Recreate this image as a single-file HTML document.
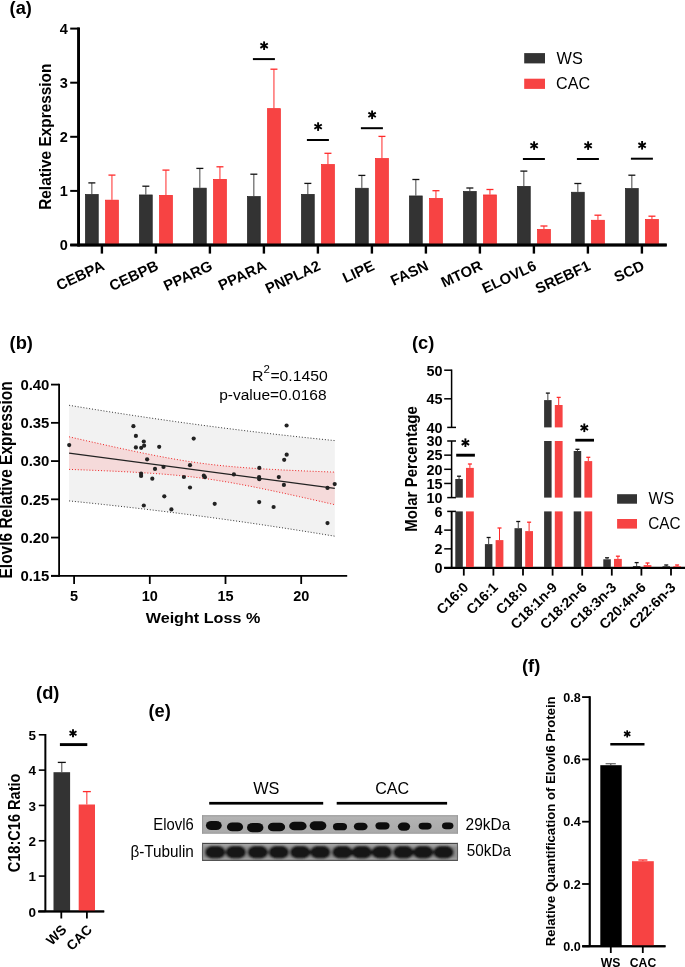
<!DOCTYPE html>
<html><head><meta charset="utf-8"><style>
html,body{margin:0;padding:0;background:#fff;}
svg{display:block;font-family:"Liberation Sans", sans-serif;}
</style></head><body>
<svg style="will-change:transform" width="685" height="967" viewBox="0 0 685 967" font-family='"Liberation Sans", sans-serif'>
<rect width="685" height="967" fill="#fff"/>
<text x="0" y="0" font-size="18.3" font-weight="bold" text-anchor="start" fill="#000" transform="translate(9.60 13.80)">(a)</text>
<line x1="78.60" y1="27.60" x2="78.60" y2="246.20" stroke="#000" stroke-width="2.4" />
<line x1="70.20" y1="245.00" x2="78.60" y2="245.00" stroke="#000" stroke-width="2.0" />
<text x="0" y="0" font-size="14.5" font-weight="bold" text-anchor="end" fill="#000" transform="translate(67.90 250.10)">0</text>
<line x1="70.20" y1="190.90" x2="78.60" y2="190.90" stroke="#000" stroke-width="2.0" />
<text x="0" y="0" font-size="14.5" font-weight="bold" text-anchor="end" fill="#000" transform="translate(67.90 196.00)">1</text>
<line x1="70.20" y1="136.80" x2="78.60" y2="136.80" stroke="#000" stroke-width="2.0" />
<text x="0" y="0" font-size="14.5" font-weight="bold" text-anchor="end" fill="#000" transform="translate(67.90 141.90)">2</text>
<line x1="70.20" y1="82.70" x2="78.60" y2="82.70" stroke="#000" stroke-width="2.0" />
<text x="0" y="0" font-size="14.5" font-weight="bold" text-anchor="end" fill="#000" transform="translate(67.90 87.80)">3</text>
<line x1="70.20" y1="28.60" x2="78.60" y2="28.60" stroke="#000" stroke-width="2.0" />
<text x="0" y="0" font-size="14.5" font-weight="bold" text-anchor="end" fill="#000" transform="translate(67.90 33.70)">4</text>
<line x1="77.40" y1="245.00" x2="666.70" y2="245.00" stroke="#000" stroke-width="2.5" />
<line x1="91.85" y1="182.90" x2="91.85" y2="194.10" stroke="#444" stroke-width="1.0" />
<line x1="88.35" y1="182.90" x2="95.35" y2="182.90" stroke="#111" stroke-width="1.3" />
<line x1="111.95" y1="175.10" x2="111.95" y2="199.80" stroke="#ff2a2a" stroke-width="1.0" />
<line x1="108.45" y1="175.10" x2="115.45" y2="175.10" stroke="#ff2a2a" stroke-width="1.3" />
<rect x="85.45" y="194.45" width="12.80" height="50.20" fill="#333333" stroke="#222" stroke-width="0.7"/>
<rect x="105.55" y="200.15" width="12.80" height="44.50" fill="#f74343" stroke="#f52525" stroke-width="0.7"/>
<line x1="101.90" y1="245.00" x2="101.90" y2="253.60" stroke="#000" stroke-width="2.4" />
<text x="105.40" y="269.30" font-size="14.85" font-weight="bold" text-anchor="end" fill="#000" transform="rotate(-25 105.4 269.3)">CEBPA</text>
<line x1="145.85" y1="186.20" x2="145.85" y2="194.60" stroke="#444" stroke-width="1.0" />
<line x1="142.35" y1="186.20" x2="149.35" y2="186.20" stroke="#111" stroke-width="1.3" />
<line x1="165.95" y1="170.10" x2="165.95" y2="195.00" stroke="#ff2a2a" stroke-width="1.0" />
<line x1="162.45" y1="170.10" x2="169.45" y2="170.10" stroke="#ff2a2a" stroke-width="1.3" />
<rect x="139.45" y="194.95" width="12.80" height="49.70" fill="#333333" stroke="#222" stroke-width="0.7"/>
<rect x="159.55" y="195.35" width="12.80" height="49.30" fill="#f74343" stroke="#f52525" stroke-width="0.7"/>
<line x1="155.90" y1="245.00" x2="155.90" y2="253.60" stroke="#000" stroke-width="2.4" />
<text x="159.40" y="269.30" font-size="14.85" font-weight="bold" text-anchor="end" fill="#000" transform="rotate(-25 159.4 269.3)">CEBPB</text>
<line x1="199.85" y1="168.40" x2="199.85" y2="187.80" stroke="#444" stroke-width="1.0" />
<line x1="196.35" y1="168.40" x2="203.35" y2="168.40" stroke="#111" stroke-width="1.3" />
<line x1="219.95" y1="166.80" x2="219.95" y2="179.00" stroke="#ff2a2a" stroke-width="1.0" />
<line x1="216.45" y1="166.80" x2="223.45" y2="166.80" stroke="#ff2a2a" stroke-width="1.3" />
<rect x="193.45" y="188.15" width="12.80" height="56.50" fill="#333333" stroke="#222" stroke-width="0.7"/>
<rect x="213.55" y="179.35" width="12.80" height="65.30" fill="#f74343" stroke="#f52525" stroke-width="0.7"/>
<line x1="209.90" y1="245.00" x2="209.90" y2="253.60" stroke="#000" stroke-width="2.4" />
<text x="213.40" y="269.30" font-size="14.85" font-weight="bold" text-anchor="end" fill="#000" transform="rotate(-25 213.4 269.3)">PPARG</text>
<line x1="253.85" y1="174.20" x2="253.85" y2="196.20" stroke="#444" stroke-width="1.0" />
<line x1="250.35" y1="174.20" x2="257.35" y2="174.20" stroke="#111" stroke-width="1.3" />
<line x1="273.95" y1="69.20" x2="273.95" y2="108.30" stroke="#ff2a2a" stroke-width="1.0" />
<line x1="270.45" y1="69.20" x2="277.45" y2="69.20" stroke="#ff2a2a" stroke-width="1.3" />
<rect x="247.45" y="196.55" width="12.80" height="48.10" fill="#333333" stroke="#222" stroke-width="0.7"/>
<rect x="267.55" y="108.65" width="12.80" height="136.00" fill="#f74343" stroke="#f52525" stroke-width="0.7"/>
<line x1="263.90" y1="245.00" x2="263.90" y2="253.60" stroke="#000" stroke-width="2.4" />
<text x="267.40" y="269.30" font-size="14.85" font-weight="bold" text-anchor="end" fill="#000" transform="rotate(-25 267.4 269.3)">PPARA</text>
<line x1="252.90" y1="59.10" x2="274.90" y2="59.10" stroke="#000" stroke-width="2.0" />
<line x1="264.10" y1="41.40" x2="264.10" y2="50.00" stroke="#000" stroke-width="1.9" />
<line x1="260.38" y1="43.55" x2="267.82" y2="47.85" stroke="#000" stroke-width="1.9" />
<line x1="260.38" y1="47.85" x2="267.82" y2="43.55" stroke="#000" stroke-width="1.9" />
<line x1="307.85" y1="183.40" x2="307.85" y2="194.00" stroke="#444" stroke-width="1.0" />
<line x1="304.35" y1="183.40" x2="311.35" y2="183.40" stroke="#111" stroke-width="1.3" />
<line x1="327.95" y1="153.30" x2="327.95" y2="164.20" stroke="#ff2a2a" stroke-width="1.0" />
<line x1="324.45" y1="153.30" x2="331.45" y2="153.30" stroke="#ff2a2a" stroke-width="1.3" />
<rect x="301.45" y="194.35" width="12.80" height="50.30" fill="#333333" stroke="#222" stroke-width="0.7"/>
<rect x="321.55" y="164.55" width="12.80" height="80.10" fill="#f74343" stroke="#f52525" stroke-width="0.7"/>
<line x1="317.90" y1="245.00" x2="317.90" y2="253.60" stroke="#000" stroke-width="2.4" />
<text x="321.40" y="269.30" font-size="14.85" font-weight="bold" text-anchor="end" fill="#000" transform="rotate(-25 321.4 269.3)">PNPLA2</text>
<line x1="306.90" y1="140.00" x2="328.90" y2="140.00" stroke="#000" stroke-width="2.0" />
<line x1="318.10" y1="122.30" x2="318.10" y2="130.90" stroke="#000" stroke-width="1.9" />
<line x1="314.38" y1="124.45" x2="321.82" y2="128.75" stroke="#000" stroke-width="1.9" />
<line x1="314.38" y1="128.75" x2="321.82" y2="124.45" stroke="#000" stroke-width="1.9" />
<line x1="361.85" y1="175.40" x2="361.85" y2="187.90" stroke="#444" stroke-width="1.0" />
<line x1="358.35" y1="175.40" x2="365.35" y2="175.40" stroke="#111" stroke-width="1.3" />
<line x1="381.95" y1="136.40" x2="381.95" y2="158.20" stroke="#ff2a2a" stroke-width="1.0" />
<line x1="378.45" y1="136.40" x2="385.45" y2="136.40" stroke="#ff2a2a" stroke-width="1.3" />
<rect x="355.45" y="188.25" width="12.80" height="56.40" fill="#333333" stroke="#222" stroke-width="0.7"/>
<rect x="375.55" y="158.55" width="12.80" height="86.10" fill="#f74343" stroke="#f52525" stroke-width="0.7"/>
<line x1="371.90" y1="245.00" x2="371.90" y2="253.60" stroke="#000" stroke-width="2.4" />
<text x="375.40" y="269.30" font-size="14.85" font-weight="bold" text-anchor="end" fill="#000" transform="rotate(-25 375.4 269.3)">LIPE</text>
<line x1="360.90" y1="128.20" x2="382.90" y2="128.20" stroke="#000" stroke-width="2.0" />
<line x1="372.10" y1="110.50" x2="372.10" y2="119.10" stroke="#000" stroke-width="1.9" />
<line x1="368.38" y1="112.65" x2="375.82" y2="116.95" stroke="#000" stroke-width="1.9" />
<line x1="368.38" y1="116.95" x2="375.82" y2="112.65" stroke="#000" stroke-width="1.9" />
<line x1="415.85" y1="179.50" x2="415.85" y2="195.60" stroke="#444" stroke-width="1.0" />
<line x1="412.35" y1="179.50" x2="419.35" y2="179.50" stroke="#111" stroke-width="1.3" />
<line x1="435.95" y1="190.70" x2="435.95" y2="198.10" stroke="#ff2a2a" stroke-width="1.0" />
<line x1="432.45" y1="190.70" x2="439.45" y2="190.70" stroke="#ff2a2a" stroke-width="1.3" />
<rect x="409.45" y="195.95" width="12.80" height="48.70" fill="#333333" stroke="#222" stroke-width="0.7"/>
<rect x="429.55" y="198.45" width="12.80" height="46.20" fill="#f74343" stroke="#f52525" stroke-width="0.7"/>
<line x1="425.90" y1="245.00" x2="425.90" y2="253.60" stroke="#000" stroke-width="2.4" />
<text x="429.40" y="269.30" font-size="14.85" font-weight="bold" text-anchor="end" fill="#000" transform="rotate(-25 429.4 269.3)">FASN</text>
<line x1="469.85" y1="188.00" x2="469.85" y2="191.10" stroke="#444" stroke-width="1.0" />
<line x1="466.35" y1="188.00" x2="473.35" y2="188.00" stroke="#111" stroke-width="1.3" />
<line x1="489.95" y1="189.50" x2="489.95" y2="194.60" stroke="#ff2a2a" stroke-width="1.0" />
<line x1="486.45" y1="189.50" x2="493.45" y2="189.50" stroke="#ff2a2a" stroke-width="1.3" />
<rect x="463.45" y="191.45" width="12.80" height="53.20" fill="#333333" stroke="#222" stroke-width="0.7"/>
<rect x="483.55" y="194.95" width="12.80" height="49.70" fill="#f74343" stroke="#f52525" stroke-width="0.7"/>
<line x1="479.90" y1="245.00" x2="479.90" y2="253.60" stroke="#000" stroke-width="2.4" />
<text x="483.40" y="269.30" font-size="14.85" font-weight="bold" text-anchor="end" fill="#000" transform="rotate(-25 483.4 269.3)">MTOR</text>
<line x1="523.85" y1="171.10" x2="523.85" y2="186.00" stroke="#444" stroke-width="1.0" />
<line x1="520.35" y1="171.10" x2="527.35" y2="171.10" stroke="#111" stroke-width="1.3" />
<line x1="543.95" y1="226.00" x2="543.95" y2="229.10" stroke="#ff2a2a" stroke-width="1.0" />
<line x1="540.45" y1="226.00" x2="547.45" y2="226.00" stroke="#ff2a2a" stroke-width="1.3" />
<rect x="517.45" y="186.35" width="12.80" height="58.30" fill="#333333" stroke="#222" stroke-width="0.7"/>
<rect x="537.55" y="229.45" width="12.80" height="15.20" fill="#f74343" stroke="#f52525" stroke-width="0.7"/>
<line x1="533.90" y1="245.00" x2="533.90" y2="253.60" stroke="#000" stroke-width="2.4" />
<text x="537.40" y="269.30" font-size="14.85" font-weight="bold" text-anchor="end" fill="#000" transform="rotate(-25 537.4 269.3)">ELOVL6</text>
<line x1="522.90" y1="159.00" x2="544.90" y2="159.00" stroke="#000" stroke-width="2.0" />
<line x1="534.10" y1="141.30" x2="534.10" y2="149.90" stroke="#000" stroke-width="1.9" />
<line x1="530.38" y1="143.45" x2="537.82" y2="147.75" stroke="#000" stroke-width="1.9" />
<line x1="530.38" y1="147.75" x2="537.82" y2="143.45" stroke="#000" stroke-width="1.9" />
<line x1="577.85" y1="183.50" x2="577.85" y2="191.90" stroke="#444" stroke-width="1.0" />
<line x1="574.35" y1="183.50" x2="581.35" y2="183.50" stroke="#111" stroke-width="1.3" />
<line x1="597.95" y1="215.20" x2="597.95" y2="219.90" stroke="#ff2a2a" stroke-width="1.0" />
<line x1="594.45" y1="215.20" x2="601.45" y2="215.20" stroke="#ff2a2a" stroke-width="1.3" />
<rect x="571.45" y="192.25" width="12.80" height="52.40" fill="#333333" stroke="#222" stroke-width="0.7"/>
<rect x="591.55" y="220.25" width="12.80" height="24.40" fill="#f74343" stroke="#f52525" stroke-width="0.7"/>
<line x1="587.90" y1="245.00" x2="587.90" y2="253.60" stroke="#000" stroke-width="2.4" />
<text x="591.40" y="269.30" font-size="14.85" font-weight="bold" text-anchor="end" fill="#000" transform="rotate(-25 591.4 269.3)">SREBF1</text>
<line x1="576.90" y1="159.00" x2="598.90" y2="159.00" stroke="#000" stroke-width="2.0" />
<line x1="588.10" y1="141.30" x2="588.10" y2="149.90" stroke="#000" stroke-width="1.9" />
<line x1="584.38" y1="143.45" x2="591.82" y2="147.75" stroke="#000" stroke-width="1.9" />
<line x1="584.38" y1="147.75" x2="591.82" y2="143.45" stroke="#000" stroke-width="1.9" />
<line x1="631.85" y1="175.20" x2="631.85" y2="188.20" stroke="#444" stroke-width="1.0" />
<line x1="628.35" y1="175.20" x2="635.35" y2="175.20" stroke="#111" stroke-width="1.3" />
<line x1="651.95" y1="216.20" x2="651.95" y2="219.10" stroke="#ff2a2a" stroke-width="1.0" />
<line x1="648.45" y1="216.20" x2="655.45" y2="216.20" stroke="#ff2a2a" stroke-width="1.3" />
<rect x="625.45" y="188.55" width="12.80" height="56.10" fill="#333333" stroke="#222" stroke-width="0.7"/>
<rect x="645.55" y="219.45" width="12.80" height="25.20" fill="#f74343" stroke="#f52525" stroke-width="0.7"/>
<line x1="641.90" y1="245.00" x2="641.90" y2="253.60" stroke="#000" stroke-width="2.4" />
<text x="645.40" y="269.30" font-size="14.85" font-weight="bold" text-anchor="end" fill="#000" transform="rotate(-25 645.4 269.3)">SCD</text>
<line x1="630.90" y1="158.70" x2="652.90" y2="158.70" stroke="#000" stroke-width="2.0" />
<line x1="642.10" y1="141.00" x2="642.10" y2="149.60" stroke="#000" stroke-width="1.9" />
<line x1="638.38" y1="143.15" x2="645.82" y2="147.45" stroke="#000" stroke-width="1.9" />
<line x1="638.38" y1="147.45" x2="645.82" y2="143.15" stroke="#000" stroke-width="1.9" />
<line x1="78.60" y1="27.60" x2="78.60" y2="246.40" stroke="#000" stroke-width="2.8" />
<line x1="70.20" y1="245.00" x2="666.70" y2="245.00" stroke="#000" stroke-width="2.9" />
<rect x="524.20" y="53.10" width="20.80" height="10.30" fill="#333333" />
<rect x="524.20" y="78.70" width="20.80" height="10.20" fill="#f74343" />
<text x="0" y="0" font-size="16.3" font-weight="normal" text-anchor="start" fill="#000" transform="translate(556.60 63.80) scale(1 1.035)">WS</text>
<text x="0" y="0" font-size="16.1" font-weight="normal" text-anchor="start" fill="#000" transform="translate(556.10 89.40) scale(1 1.050)">CAC</text>
<text x="0" y="0" font-size="15.4" font-weight="bold" text-anchor="start" fill="#000" transform="translate(50.50 209.80) rotate(-90) scale(1 1.050)">Relative Expression</text>
<text x="0" y="0" font-size="18.3" font-weight="bold" text-anchor="start" fill="#000" transform="translate(9.60 348.80)">(b)</text>
<polygon points="69.10,405.29 73.53,406.02 77.96,406.75 82.38,407.48 86.81,408.20 91.24,408.91 95.67,409.62 100.10,410.33 104.53,411.03 108.95,411.72 113.38,412.41 117.81,413.10 122.24,413.78 126.67,414.46 131.10,415.13 135.53,415.80 139.95,416.46 144.38,417.12 148.81,417.77 153.24,418.42 157.67,419.06 162.10,419.69 166.52,420.33 170.95,420.95 175.38,421.58 179.81,422.19 184.24,422.80 188.67,423.41 193.09,424.01 197.52,424.61 201.95,425.20 206.38,425.78 210.81,426.36 215.24,426.94 219.66,427.51 224.09,428.08 228.52,428.64 232.95,429.19 237.38,429.74 241.81,430.29 246.23,430.83 250.66,431.36 255.09,431.89 259.52,432.41 263.95,432.93 268.38,433.45 272.80,433.96 277.23,434.46 281.66,434.96 286.09,435.46 290.52,435.95 294.95,436.44 299.37,436.92 303.80,437.39 308.23,437.86 312.66,438.33 317.09,438.79 321.52,439.25 325.94,439.70 330.37,440.15 334.80,440.59 334.80,536.21 330.37,535.47 325.94,534.74 321.52,534.02 317.09,533.30 312.66,532.59 308.23,531.88 303.80,531.17 299.37,530.47 294.95,529.77 290.52,529.08 286.09,528.40 281.66,527.72 277.23,527.04 272.80,526.37 268.38,525.70 263.95,525.04 259.52,524.38 255.09,523.73 250.66,523.08 246.23,522.44 241.81,521.80 237.38,521.17 232.95,520.55 228.52,519.92 224.09,519.31 219.66,518.70 215.24,518.09 210.81,517.49 206.38,516.89 201.95,516.30 197.52,515.72 193.09,515.14 188.67,514.56 184.24,513.99 179.81,513.42 175.38,512.86 170.95,512.31 166.52,511.76 162.10,511.22 157.67,510.68 153.24,510.14 148.81,509.61 144.38,509.09 139.95,508.57 135.53,508.05 131.10,507.54 126.67,507.04 122.24,506.54 117.81,506.04 113.38,505.55 108.95,505.07 104.53,504.59 100.10,504.11 95.67,503.64 91.24,503.17 86.81,502.71 82.38,502.25 77.96,501.80 73.53,501.35 69.10,500.91" fill="#f2f2f2"/>
<polygon points="69.10,436.80 73.53,437.82 77.96,438.83 82.38,439.84 86.81,440.85 91.24,441.85 95.67,442.85 100.10,443.84 104.53,444.83 108.95,445.81 113.38,446.79 117.81,447.76 122.24,448.72 126.67,449.67 131.10,450.61 135.53,451.55 139.95,452.47 144.38,453.38 148.81,454.27 153.24,455.15 157.67,456.01 162.10,456.85 166.52,457.68 170.95,458.48 175.38,459.25 179.81,460.01 184.24,460.73 188.67,461.43 193.09,462.09 197.52,462.73 201.95,463.33 206.38,463.91 210.81,464.45 215.24,464.96 219.66,465.44 224.09,465.89 228.52,466.32 232.95,466.72 237.38,467.09 241.81,467.45 246.23,467.78 250.66,468.10 255.09,468.40 259.52,468.68 263.95,468.95 268.38,469.20 272.80,469.45 277.23,469.68 281.66,469.91 286.09,470.12 290.52,470.33 294.95,470.53 299.37,470.73 303.80,470.92 308.23,471.10 312.66,471.28 317.09,471.45 321.52,471.62 325.94,471.79 330.37,471.95 334.80,472.11 334.80,504.69 330.37,503.67 325.94,502.66 321.52,501.65 317.09,500.64 312.66,499.64 308.23,498.64 303.80,497.65 299.37,496.66 294.95,495.68 290.52,494.70 286.09,493.73 281.66,492.77 277.23,491.82 272.80,490.88 268.38,489.95 263.95,489.03 259.52,488.12 255.09,487.22 250.66,486.35 246.23,485.48 241.81,484.64 237.38,483.82 232.95,483.02 228.52,482.24 224.09,481.49 219.66,480.77 215.24,480.07 210.81,479.40 206.38,478.77 201.95,478.17 197.52,477.59 193.09,477.05 188.67,476.54 184.24,476.06 179.81,475.61 175.38,475.19 170.95,474.79 166.52,474.41 162.10,474.06 157.67,473.72 153.24,473.41 148.81,473.11 144.38,472.83 139.95,472.56 135.53,472.30 131.10,472.06 126.67,471.83 122.24,471.60 117.81,471.39 113.38,471.18 108.95,470.98 104.53,470.78 100.10,470.59 95.67,470.41 91.24,470.23 86.81,470.06 82.38,469.89 77.96,469.72 73.53,469.56 69.10,469.40" fill="#f5dada"/>
<polyline points="69.10,405.29 73.53,406.02 77.96,406.75 82.38,407.48 86.81,408.20 91.24,408.91 95.67,409.62 100.10,410.33 104.53,411.03 108.95,411.72 113.38,412.41 117.81,413.10 122.24,413.78 126.67,414.46 131.10,415.13 135.53,415.80 139.95,416.46 144.38,417.12 148.81,417.77 153.24,418.42 157.67,419.06 162.10,419.69 166.52,420.33 170.95,420.95 175.38,421.58 179.81,422.19 184.24,422.80 188.67,423.41 193.09,424.01 197.52,424.61 201.95,425.20 206.38,425.78 210.81,426.36 215.24,426.94 219.66,427.51 224.09,428.08 228.52,428.64 232.95,429.19 237.38,429.74 241.81,430.29 246.23,430.83 250.66,431.36 255.09,431.89 259.52,432.41 263.95,432.93 268.38,433.45 272.80,433.96 277.23,434.46 281.66,434.96 286.09,435.46 290.52,435.95 294.95,436.44 299.37,436.92 303.80,437.39 308.23,437.86 312.66,438.33 317.09,438.79 321.52,439.25 325.94,439.70 330.37,440.15 334.80,440.59" fill="none" stroke="#333" stroke-width="1.0" stroke-dasharray="1 1.9"/>
<polyline points="69.10,500.91 73.53,501.35 77.96,501.80 82.38,502.25 86.81,502.71 91.24,503.17 95.67,503.64 100.10,504.11 104.53,504.59 108.95,505.07 113.38,505.55 117.81,506.04 122.24,506.54 126.67,507.04 131.10,507.54 135.53,508.05 139.95,508.57 144.38,509.09 148.81,509.61 153.24,510.14 157.67,510.68 162.10,511.22 166.52,511.76 170.95,512.31 175.38,512.86 179.81,513.42 184.24,513.99 188.67,514.56 193.09,515.14 197.52,515.72 201.95,516.30 206.38,516.89 210.81,517.49 215.24,518.09 219.66,518.70 224.09,519.31 228.52,519.92 232.95,520.55 237.38,521.17 241.81,521.80 246.23,522.44 250.66,523.08 255.09,523.73 259.52,524.38 263.95,525.04 268.38,525.70 272.80,526.37 277.23,527.04 281.66,527.72 286.09,528.40 290.52,529.08 294.95,529.77 299.37,530.47 303.80,531.17 308.23,531.88 312.66,532.59 317.09,533.30 321.52,534.02 325.94,534.74 330.37,535.47 334.80,536.21" fill="none" stroke="#333" stroke-width="1.0" stroke-dasharray="1 1.9"/>
<polyline points="69.10,436.80 73.53,437.82 77.96,438.83 82.38,439.84 86.81,440.85 91.24,441.85 95.67,442.85 100.10,443.84 104.53,444.83 108.95,445.81 113.38,446.79 117.81,447.76 122.24,448.72 126.67,449.67 131.10,450.61 135.53,451.55 139.95,452.47 144.38,453.38 148.81,454.27 153.24,455.15 157.67,456.01 162.10,456.85 166.52,457.68 170.95,458.48 175.38,459.25 179.81,460.01 184.24,460.73 188.67,461.43 193.09,462.09 197.52,462.73 201.95,463.33 206.38,463.91 210.81,464.45 215.24,464.96 219.66,465.44 224.09,465.89 228.52,466.32 232.95,466.72 237.38,467.09 241.81,467.45 246.23,467.78 250.66,468.10 255.09,468.40 259.52,468.68 263.95,468.95 268.38,469.20 272.80,469.45 277.23,469.68 281.66,469.91 286.09,470.12 290.52,470.33 294.95,470.53 299.37,470.73 303.80,470.92 308.23,471.10 312.66,471.28 317.09,471.45 321.52,471.62 325.94,471.79 330.37,471.95 334.80,472.11" fill="none" stroke="#ee2020" stroke-width="1.0" stroke-dasharray="1 1.9"/>
<polyline points="69.10,469.40 73.53,469.56 77.96,469.72 82.38,469.89 86.81,470.06 91.24,470.23 95.67,470.41 100.10,470.59 104.53,470.78 108.95,470.98 113.38,471.18 117.81,471.39 122.24,471.60 126.67,471.83 131.10,472.06 135.53,472.30 139.95,472.56 144.38,472.83 148.81,473.11 153.24,473.41 157.67,473.72 162.10,474.06 166.52,474.41 170.95,474.79 175.38,475.19 179.81,475.61 184.24,476.06 188.67,476.54 193.09,477.05 197.52,477.59 201.95,478.17 206.38,478.77 210.81,479.40 215.24,480.07 219.66,480.77 224.09,481.49 228.52,482.24 232.95,483.02 237.38,483.82 241.81,484.64 246.23,485.48 250.66,486.35 255.09,487.22 259.52,488.12 263.95,489.03 268.38,489.95 272.80,490.88 277.23,491.82 281.66,492.77 286.09,493.73 290.52,494.70 294.95,495.68 299.37,496.66 303.80,497.65 308.23,498.64 312.66,499.64 317.09,500.64 321.52,501.65 325.94,502.66 330.37,503.67 334.80,504.69" fill="none" stroke="#ee2020" stroke-width="1.0" stroke-dasharray="1 1.9"/>
<line x1="69.10" y1="453.10" x2="334.80" y2="488.40" stroke="#222" stroke-width="1.3" />
<line x1="59.10" y1="383.80" x2="59.10" y2="576.70" stroke="#000" stroke-width="1.8" />
<line x1="51.00" y1="384.60" x2="59.10" y2="384.60" stroke="#000" stroke-width="1.8" />
<text x="0" y="0" font-size="14.9" font-weight="bold" text-anchor="end" fill="#000" transform="translate(49.40 389.90)">0.40</text>
<line x1="51.00" y1="422.84" x2="59.10" y2="422.84" stroke="#000" stroke-width="1.8" />
<text x="0" y="0" font-size="14.9" font-weight="bold" text-anchor="end" fill="#000" transform="translate(49.40 428.14)">0.35</text>
<line x1="51.00" y1="461.08" x2="59.10" y2="461.08" stroke="#000" stroke-width="1.8" />
<text x="0" y="0" font-size="14.9" font-weight="bold" text-anchor="end" fill="#000" transform="translate(49.40 466.38)">0.30</text>
<line x1="51.00" y1="499.32" x2="59.10" y2="499.32" stroke="#000" stroke-width="1.8" />
<text x="0" y="0" font-size="14.9" font-weight="bold" text-anchor="end" fill="#000" transform="translate(49.40 504.62)">0.25</text>
<line x1="51.00" y1="537.56" x2="59.10" y2="537.56" stroke="#000" stroke-width="1.8" />
<text x="0" y="0" font-size="14.9" font-weight="bold" text-anchor="end" fill="#000" transform="translate(49.40 542.86)">0.20</text>
<line x1="51.00" y1="575.80" x2="59.10" y2="575.80" stroke="#000" stroke-width="1.8" />
<text x="0" y="0" font-size="14.9" font-weight="bold" text-anchor="end" fill="#000" transform="translate(49.40 581.10)">0.15</text>
<line x1="51.00" y1="575.80" x2="347.20" y2="575.80" stroke="#000" stroke-width="1.8" />
<line x1="74.10" y1="575.80" x2="74.10" y2="584.00" stroke="#000" stroke-width="1.8" />
<text x="0" y="0" font-size="14.5" font-weight="bold" text-anchor="middle" fill="#000" transform="translate(74.10 600.60) scale(1 1.050)">5</text>
<line x1="149.80" y1="575.80" x2="149.80" y2="584.00" stroke="#000" stroke-width="1.8" />
<text x="0" y="0" font-size="14.5" font-weight="bold" text-anchor="middle" fill="#000" transform="translate(149.80 600.60) scale(1 1.050)">10</text>
<line x1="225.50" y1="575.80" x2="225.50" y2="584.00" stroke="#000" stroke-width="1.8" />
<text x="0" y="0" font-size="14.5" font-weight="bold" text-anchor="middle" fill="#000" transform="translate(225.50 600.60) scale(1 1.050)">15</text>
<line x1="301.20" y1="575.80" x2="301.20" y2="584.00" stroke="#000" stroke-width="1.8" />
<text x="0" y="0" font-size="14.5" font-weight="bold" text-anchor="middle" fill="#000" transform="translate(301.20 600.60) scale(1 1.050)">20</text>
<text x="0" y="0" font-size="16.15" font-weight="bold" text-anchor="start" fill="#000" transform="translate(145.70 623.40) scale(1 0.950)">Weight Loss %</text>
<text x="0" y="0" font-size="15.5" font-weight="bold" text-anchor="start" fill="#000" transform="translate(12.00 578.50) rotate(-90) scale(1 1.150)">Elovl6 Relative Expression</text>
<circle cx="69.20" cy="445.10" r="2.1" fill="#222"/>
<circle cx="133.40" cy="426.20" r="2.1" fill="#222"/>
<circle cx="135.90" cy="435.90" r="2.1" fill="#222"/>
<circle cx="135.90" cy="447.40" r="2.1" fill="#222"/>
<circle cx="143.80" cy="441.50" r="2.1" fill="#222"/>
<circle cx="141.20" cy="447.80" r="2.1" fill="#222"/>
<circle cx="144.10" cy="445.70" r="2.1" fill="#222"/>
<circle cx="147.10" cy="459.30" r="2.1" fill="#222"/>
<circle cx="141.10" cy="473.70" r="2.1" fill="#222"/>
<circle cx="141.10" cy="475.90" r="2.1" fill="#222"/>
<circle cx="159.20" cy="446.80" r="2.1" fill="#222"/>
<circle cx="193.70" cy="438.60" r="2.1" fill="#222"/>
<circle cx="155.00" cy="468.90" r="2.1" fill="#222"/>
<circle cx="163.50" cy="466.90" r="2.1" fill="#222"/>
<circle cx="190.00" cy="465.20" r="2.1" fill="#222"/>
<circle cx="152.30" cy="478.70" r="2.1" fill="#222"/>
<circle cx="183.90" cy="477.00" r="2.1" fill="#222"/>
<circle cx="203.80" cy="475.70" r="2.1" fill="#222"/>
<circle cx="204.90" cy="477.20" r="2.1" fill="#222"/>
<circle cx="190.00" cy="487.50" r="2.1" fill="#222"/>
<circle cx="164.30" cy="496.30" r="2.1" fill="#222"/>
<circle cx="233.90" cy="474.40" r="2.1" fill="#222"/>
<circle cx="259.30" cy="467.90" r="2.1" fill="#222"/>
<circle cx="259.10" cy="477.10" r="2.1" fill="#222"/>
<circle cx="259.30" cy="479.20" r="2.1" fill="#222"/>
<circle cx="278.80" cy="477.10" r="2.1" fill="#222"/>
<circle cx="283.90" cy="484.90" r="2.1" fill="#222"/>
<circle cx="284.20" cy="459.80" r="2.1" fill="#222"/>
<circle cx="286.70" cy="454.70" r="2.1" fill="#222"/>
<circle cx="286.60" cy="425.50" r="2.1" fill="#222"/>
<circle cx="327.50" cy="487.90" r="2.1" fill="#222"/>
<circle cx="334.70" cy="484.10" r="2.1" fill="#222"/>
<circle cx="259.20" cy="502.10" r="2.1" fill="#222"/>
<circle cx="273.60" cy="507.00" r="2.1" fill="#222"/>
<circle cx="327.50" cy="523.10" r="2.1" fill="#222"/>
<circle cx="143.80" cy="505.50" r="2.1" fill="#222"/>
<circle cx="171.40" cy="509.40" r="2.1" fill="#222"/>
<circle cx="214.70" cy="503.80" r="2.1" fill="#222"/>
<text x="0" y="0" font-size="15.9" font-weight="normal" text-anchor="start" fill="#000" transform="translate(252.00 381.20) scale(1 0.960)">R</text>
<text x="0" y="0" font-size="11.5" font-weight="normal" text-anchor="start" fill="#000" transform="translate(263.50 373.40)">2</text>
<text x="0" y="0" font-size="15.75" font-weight="normal" text-anchor="start" fill="#000" transform="translate(270.40 381.30) scale(1 0.980)">=0.1450</text>
<text x="0" y="0" font-size="15.5" font-weight="normal" text-anchor="start" fill="#000" transform="translate(219.20 399.80)">p-value=0.0168</text>
<text x="0" y="0" font-size="18.3" font-weight="bold" text-anchor="start" fill="#000" transform="translate(412.00 348.80)">(c)</text>
<line x1="451.60" y1="369.50" x2="451.60" y2="427.40" stroke="#000" stroke-width="1.5" />
<line x1="451.60" y1="441.00" x2="451.60" y2="497.60" stroke="#000" stroke-width="1.5" />
<line x1="451.60" y1="511.40" x2="451.60" y2="567.56" stroke="#000" stroke-width="1.5" />
<line x1="444.20" y1="370.20" x2="451.60" y2="370.20" stroke="#000" stroke-width="1.5" />
<line x1="444.20" y1="398.80" x2="451.60" y2="398.80" stroke="#000" stroke-width="1.5" />
<line x1="447.20" y1="427.40" x2="456.00" y2="427.40" stroke="#000" stroke-width="1.5" />
<line x1="447.20" y1="441.00" x2="456.00" y2="441.00" stroke="#000" stroke-width="1.5" />
<line x1="447.20" y1="497.60" x2="456.00" y2="497.60" stroke="#000" stroke-width="1.5" />
<line x1="444.20" y1="455.15" x2="451.60" y2="455.15" stroke="#000" stroke-width="1.5" />
<line x1="444.20" y1="469.30" x2="451.60" y2="469.30" stroke="#000" stroke-width="1.5" />
<line x1="444.20" y1="483.45" x2="451.60" y2="483.45" stroke="#000" stroke-width="1.5" />
<line x1="447.20" y1="511.40" x2="456.00" y2="511.40" stroke="#000" stroke-width="1.5" />
<line x1="444.20" y1="530.12" x2="451.60" y2="530.12" stroke="#000" stroke-width="1.5" />
<line x1="444.20" y1="548.84" x2="451.60" y2="548.84" stroke="#000" stroke-width="1.5" />
<text x="0" y="0" font-size="14.4" font-weight="bold" text-anchor="end" fill="#000" transform="translate(442.60 375.50)">50</text>
<text x="0" y="0" font-size="14.4" font-weight="bold" text-anchor="end" fill="#000" transform="translate(442.60 404.10)">45</text>
<text x="0" y="0" font-size="14.4" font-weight="bold" text-anchor="end" fill="#000" transform="translate(442.60 432.70)">40</text>
<text x="0" y="0" font-size="14.4" font-weight="bold" text-anchor="end" fill="#000" transform="translate(442.60 446.30)">30</text>
<text x="0" y="0" font-size="14.4" font-weight="bold" text-anchor="end" fill="#000" transform="translate(442.60 460.45)">25</text>
<text x="0" y="0" font-size="14.4" font-weight="bold" text-anchor="end" fill="#000" transform="translate(442.60 474.60)">20</text>
<text x="0" y="0" font-size="14.4" font-weight="bold" text-anchor="end" fill="#000" transform="translate(442.60 488.75)">15</text>
<text x="0" y="0" font-size="14.4" font-weight="bold" text-anchor="end" fill="#000" transform="translate(442.60 502.90)">10</text>
<text x="0" y="0" font-size="14.4" font-weight="bold" text-anchor="end" fill="#000" transform="translate(442.60 516.70)">6</text>
<text x="0" y="0" font-size="14.4" font-weight="bold" text-anchor="end" fill="#000" transform="translate(442.60 535.42)">4</text>
<text x="0" y="0" font-size="14.4" font-weight="bold" text-anchor="end" fill="#000" transform="translate(442.60 554.14)">2</text>
<text x="0" y="0" font-size="14.4" font-weight="bold" text-anchor="end" fill="#000" transform="translate(442.60 572.86)">0</text>
<line x1="444.20" y1="567.56" x2="685.00" y2="567.56" stroke="#000" stroke-width="1.8" />
<line x1="459.05" y1="476.20" x2="459.05" y2="479.00" stroke="#444" stroke-width="1.0" />
<line x1="457.05" y1="476.20" x2="461.05" y2="476.20" stroke="#111" stroke-width="1.3" />
<line x1="469.90" y1="464.00" x2="469.90" y2="467.90" stroke="#ff2a2a" stroke-width="1.0" />
<line x1="467.90" y1="464.00" x2="471.90" y2="464.00" stroke="#ff2a2a" stroke-width="1.3" />
<rect x="455.30" y="479.00" width="7.50" height="18.60" fill="#333333" />
<rect x="455.30" y="511.40" width="7.50" height="56.16" fill="#333333" />
<rect x="466.00" y="467.90" width="7.80" height="29.70" fill="#f74343" />
<rect x="466.00" y="511.40" width="7.80" height="56.16" fill="#f74343" />
<line x1="463.80" y1="567.56" x2="463.80" y2="575.60" stroke="#000" stroke-width="1.8" />
<text x="469.30" y="588.20" font-size="14" font-weight="bold" text-anchor="end" fill="#000" transform="rotate(-45 469.3 588.2)">C16:0</text>
<line x1="488.65" y1="537.50" x2="488.65" y2="544.10" stroke="#444" stroke-width="1.0" />
<line x1="486.65" y1="537.50" x2="490.65" y2="537.50" stroke="#111" stroke-width="1.3" />
<line x1="499.50" y1="528.00" x2="499.50" y2="540.10" stroke="#ff2a2a" stroke-width="1.0" />
<line x1="497.50" y1="528.00" x2="501.50" y2="528.00" stroke="#ff2a2a" stroke-width="1.3" />
<rect x="484.90" y="544.10" width="7.50" height="23.46" fill="#333333" />
<rect x="495.60" y="540.10" width="7.80" height="27.46" fill="#f74343" />
<line x1="493.40" y1="567.56" x2="493.40" y2="575.60" stroke="#000" stroke-width="1.8" />
<text x="498.90" y="588.20" font-size="14" font-weight="bold" text-anchor="end" fill="#000" transform="rotate(-45 498.9 588.2)">C16:1</text>
<line x1="518.25" y1="521.50" x2="518.25" y2="528.20" stroke="#444" stroke-width="1.0" />
<line x1="516.25" y1="521.50" x2="520.25" y2="521.50" stroke="#111" stroke-width="1.3" />
<line x1="529.10" y1="522.20" x2="529.10" y2="531.10" stroke="#ff2a2a" stroke-width="1.0" />
<line x1="527.10" y1="522.20" x2="531.10" y2="522.20" stroke="#ff2a2a" stroke-width="1.3" />
<rect x="514.50" y="528.20" width="7.50" height="39.36" fill="#333333" />
<rect x="525.20" y="531.10" width="7.80" height="36.46" fill="#f74343" />
<line x1="523.00" y1="567.56" x2="523.00" y2="575.60" stroke="#000" stroke-width="1.8" />
<text x="528.50" y="588.20" font-size="14" font-weight="bold" text-anchor="end" fill="#000" transform="rotate(-45 528.5 588.2)">C18:0</text>
<line x1="547.85" y1="393.10" x2="547.85" y2="400.10" stroke="#444" stroke-width="1.0" />
<line x1="545.85" y1="393.10" x2="549.85" y2="393.10" stroke="#111" stroke-width="1.3" />
<line x1="558.70" y1="397.40" x2="558.70" y2="405.00" stroke="#ff2a2a" stroke-width="1.0" />
<line x1="556.70" y1="397.40" x2="560.70" y2="397.40" stroke="#ff2a2a" stroke-width="1.3" />
<rect x="544.10" y="400.10" width="7.50" height="27.30" fill="#333333" />
<rect x="544.10" y="441.00" width="7.50" height="56.60" fill="#333333" />
<rect x="544.10" y="511.40" width="7.50" height="56.16" fill="#333333" />
<rect x="554.80" y="405.00" width="7.80" height="22.40" fill="#f74343" />
<rect x="554.80" y="441.00" width="7.80" height="56.60" fill="#f74343" />
<rect x="554.80" y="511.40" width="7.80" height="56.16" fill="#f74343" />
<line x1="552.60" y1="567.56" x2="552.60" y2="575.60" stroke="#000" stroke-width="1.8" />
<text x="558.10" y="588.20" font-size="14" font-weight="bold" text-anchor="end" fill="#000" transform="rotate(-45 558.1 588.2)">C18:1n-9</text>
<line x1="577.45" y1="449.30" x2="577.45" y2="451.00" stroke="#444" stroke-width="1.0" />
<line x1="575.45" y1="449.30" x2="579.45" y2="449.30" stroke="#111" stroke-width="1.3" />
<line x1="588.30" y1="457.30" x2="588.30" y2="461.10" stroke="#ff2a2a" stroke-width="1.0" />
<line x1="586.30" y1="457.30" x2="590.30" y2="457.30" stroke="#ff2a2a" stroke-width="1.3" />
<rect x="573.70" y="451.00" width="7.50" height="46.60" fill="#333333" />
<rect x="573.70" y="511.40" width="7.50" height="56.16" fill="#333333" />
<rect x="584.40" y="461.10" width="7.80" height="36.50" fill="#f74343" />
<rect x="584.40" y="511.40" width="7.80" height="56.16" fill="#f74343" />
<line x1="582.20" y1="567.56" x2="582.20" y2="575.60" stroke="#000" stroke-width="1.8" />
<text x="587.70" y="588.20" font-size="14" font-weight="bold" text-anchor="end" fill="#000" transform="rotate(-45 587.7 588.2)">C18:2n-6</text>
<line x1="607.05" y1="557.80" x2="607.05" y2="559.30" stroke="#444" stroke-width="1.0" />
<line x1="605.05" y1="557.80" x2="609.05" y2="557.80" stroke="#111" stroke-width="1.3" />
<line x1="617.90" y1="556.20" x2="617.90" y2="558.90" stroke="#ff2a2a" stroke-width="1.0" />
<line x1="615.90" y1="556.20" x2="619.90" y2="556.20" stroke="#ff2a2a" stroke-width="1.3" />
<rect x="603.30" y="559.30" width="7.50" height="8.26" fill="#333333" />
<rect x="614.00" y="558.90" width="7.80" height="8.66" fill="#f74343" />
<line x1="611.80" y1="567.56" x2="611.80" y2="575.60" stroke="#000" stroke-width="1.8" />
<text x="617.30" y="588.20" font-size="14" font-weight="bold" text-anchor="end" fill="#000" transform="rotate(-45 617.3 588.2)">C18:3n-3</text>
<line x1="636.65" y1="562.60" x2="636.65" y2="566.00" stroke="#444" stroke-width="1.0" />
<line x1="634.65" y1="562.60" x2="638.65" y2="562.60" stroke="#111" stroke-width="1.3" />
<line x1="647.50" y1="563.00" x2="647.50" y2="565.10" stroke="#ff2a2a" stroke-width="1.0" />
<line x1="645.50" y1="563.00" x2="649.50" y2="563.00" stroke="#ff2a2a" stroke-width="1.3" />
<rect x="632.90" y="566.00" width="7.50" height="1.56" fill="#333333" />
<rect x="643.60" y="565.10" width="7.80" height="2.46" fill="#f74343" />
<line x1="641.40" y1="567.56" x2="641.40" y2="575.60" stroke="#000" stroke-width="1.8" />
<text x="646.90" y="588.20" font-size="14" font-weight="bold" text-anchor="end" fill="#000" transform="rotate(-45 646.9 588.2)">C20:4n-6</text>
<line x1="666.25" y1="565.00" x2="666.25" y2="566.20" stroke="#444" stroke-width="1.0" />
<line x1="664.25" y1="565.00" x2="668.25" y2="565.00" stroke="#111" stroke-width="1.3" />
<line x1="677.10" y1="565.00" x2="677.10" y2="566.20" stroke="#ff2a2a" stroke-width="1.0" />
<line x1="675.10" y1="565.00" x2="679.10" y2="565.00" stroke="#ff2a2a" stroke-width="1.3" />
<rect x="662.50" y="566.20" width="7.50" height="1.36" fill="#333333" />
<rect x="673.20" y="566.20" width="7.80" height="1.36" fill="#f74343" />
<line x1="671.00" y1="567.56" x2="671.00" y2="575.60" stroke="#000" stroke-width="1.8" />
<text x="676.50" y="588.20" font-size="14" font-weight="bold" text-anchor="end" fill="#000" transform="rotate(-45 676.5 588.2)">C22:6n-3</text>
<line x1="451.60" y1="511.40" x2="451.60" y2="567.56" stroke="#000" stroke-width="1.5" />
<line x1="444.20" y1="567.96" x2="685.00" y2="567.96" stroke="#000" stroke-width="2.1" />
<line x1="456.20" y1="455.20" x2="474.90" y2="455.20" stroke="#000" stroke-width="2.9" />
<line x1="465.40" y1="438.40" x2="465.40" y2="447.00" stroke="#000" stroke-width="1.9" />
<line x1="461.68" y1="440.55" x2="469.12" y2="444.85" stroke="#000" stroke-width="1.9" />
<line x1="461.68" y1="444.85" x2="469.12" y2="440.55" stroke="#000" stroke-width="1.9" />
<line x1="575.30" y1="440.20" x2="594.00" y2="440.20" stroke="#000" stroke-width="2.8" />
<line x1="584.30" y1="423.50" x2="584.30" y2="432.10" stroke="#000" stroke-width="1.9" />
<line x1="580.58" y1="425.65" x2="588.02" y2="429.95" stroke="#000" stroke-width="1.9" />
<line x1="580.58" y1="429.95" x2="588.02" y2="425.65" stroke="#000" stroke-width="1.9" />
<rect x="617.10" y="494.20" width="19.90" height="9.50" fill="#333333" />
<rect x="617.10" y="519.00" width="19.90" height="9.60" fill="#f74343" />
<text x="0" y="0" font-size="15.9" font-weight="normal" text-anchor="start" fill="#000" transform="translate(648.60 503.90) scale(1 1.030)">WS</text>
<text x="0" y="0" font-size="15.3" font-weight="normal" text-anchor="start" fill="#000" transform="translate(648.30 528.90) scale(1 1.090)">CAC</text>
<text x="0" y="0" font-size="14.5" font-weight="bold" text-anchor="start" fill="#000" transform="translate(417.00 531.75) scale(1 1.040) rotate(-90) scale(1 1.090)">Molar Percentage</text>
<text x="0" y="0" font-size="18.3" font-weight="bold" text-anchor="start" fill="#000" transform="translate(36.10 699.10)">(d)</text>
<line x1="45.40" y1="734.00" x2="45.40" y2="911.40" stroke="#000" stroke-width="1.6" />
<line x1="38.80" y1="911.40" x2="45.40" y2="911.40" stroke="#000" stroke-width="1.6" />
<text x="0" y="0" font-size="13.5" font-weight="bold" text-anchor="end" fill="#000" transform="translate(35.90 916.50)">0</text>
<line x1="38.80" y1="876.08" x2="45.40" y2="876.08" stroke="#000" stroke-width="1.6" />
<text x="0" y="0" font-size="13.5" font-weight="bold" text-anchor="end" fill="#000" transform="translate(35.90 881.18)">1</text>
<line x1="38.80" y1="840.76" x2="45.40" y2="840.76" stroke="#000" stroke-width="1.6" />
<text x="0" y="0" font-size="13.5" font-weight="bold" text-anchor="end" fill="#000" transform="translate(35.90 845.86)">2</text>
<line x1="38.80" y1="805.44" x2="45.40" y2="805.44" stroke="#000" stroke-width="1.6" />
<text x="0" y="0" font-size="13.5" font-weight="bold" text-anchor="end" fill="#000" transform="translate(35.90 810.54)">3</text>
<line x1="38.80" y1="770.12" x2="45.40" y2="770.12" stroke="#000" stroke-width="1.6" />
<text x="0" y="0" font-size="13.5" font-weight="bold" text-anchor="end" fill="#000" transform="translate(35.90 775.22)">4</text>
<line x1="38.80" y1="734.80" x2="45.40" y2="734.80" stroke="#000" stroke-width="1.6" />
<text x="0" y="0" font-size="13.5" font-weight="bold" text-anchor="end" fill="#000" transform="translate(35.90 739.90)">5</text>
<line x1="38.80" y1="911.40" x2="104.20" y2="911.40" stroke="#000" stroke-width="1.8" />
<line x1="61.80" y1="762.40" x2="61.80" y2="772.20" stroke="#444" stroke-width="1.0" />
<line x1="57.80" y1="762.40" x2="65.80" y2="762.40" stroke="#111" stroke-width="1.3" />
<line x1="86.85" y1="791.60" x2="86.85" y2="804.50" stroke="#ff2a2a" stroke-width="1.0" />
<line x1="82.85" y1="791.60" x2="90.85" y2="791.60" stroke="#ff2a2a" stroke-width="1.3" />
<rect x="53.50" y="772.20" width="16.60" height="139.20" fill="#333333" />
<rect x="78.70" y="804.50" width="16.30" height="106.90" fill="#f74343" />
<line x1="45.40" y1="734.00" x2="45.40" y2="911.40" stroke="#000" stroke-width="1.6" />
<line x1="38.00" y1="911.40" x2="104.20" y2="911.40" stroke="#000" stroke-width="2.0" />
<line x1="61.30" y1="911.40" x2="61.30" y2="918.50" stroke="#000" stroke-width="1.8" />
<text x="0" y="0" font-size="13.6" font-weight="bold" text-anchor="end" fill="#000" transform="translate(67.30 930.50) rotate(-45)">WS</text>
<line x1="86.90" y1="911.40" x2="86.90" y2="918.50" stroke="#000" stroke-width="1.8" />
<text x="0" y="0" font-size="13.6" font-weight="bold" text-anchor="end" fill="#000" transform="translate(92.90 930.50) rotate(-45)">CAC</text>
<line x1="59.90" y1="744.60" x2="87.30" y2="744.60" stroke="#000" stroke-width="2.9" />
<line x1="73.00" y1="729.20" x2="73.00" y2="737.20" stroke="#000" stroke-width="1.9" />
<line x1="69.54" y1="731.20" x2="76.46" y2="735.20" stroke="#000" stroke-width="1.9" />
<line x1="69.54" y1="735.20" x2="76.46" y2="731.20" stroke="#000" stroke-width="1.9" />
<text x="0" y="0" font-size="14.8" font-weight="bold" text-anchor="start" fill="#000" transform="translate(20.10 872.30) scale(1 0.985) rotate(-90) scale(1 1.100)">C18:C16 Ratio</text>
<text x="0" y="0" font-size="18.3" font-weight="bold" text-anchor="start" fill="#000" transform="translate(148.40 716.70)">(e)</text>
<text x="0" y="0" font-size="16.3" font-weight="normal" text-anchor="middle" fill="#000" transform="translate(266.25 794.20) scale(1 1.040)">WS</text>
<text x="0" y="0" font-size="16.1" font-weight="normal" text-anchor="middle" fill="#000" transform="translate(392.15 794.20) scale(1 1.040)">CAC</text>
<rect x="209.20" y="801.90" width="114.00" height="2.70" fill="#000" />
<rect x="336.70" y="801.90" width="110.40" height="2.70" fill="#000" />
<defs><filter id="b1" x="-20%" y="-40%" width="140%" height="180%"><feGaussianBlur stdDeviation="0.65"/></filter><filter id="b2" x="-20%" y="-40%" width="140%" height="180%"><feGaussianBlur stdDeviation="0.85"/></filter><linearGradient id="g1" x1="0" y1="0" x2="0" y2="1"><stop offset="0" stop-color="#b4b4b4"/><stop offset="1" stop-color="#a9a9a9"/></linearGradient></defs>
<rect x="202.10" y="815.30" width="255.80" height="18.30" fill="url(#g1)" />
<line x1="202.10" y1="815.80" x2="457.90" y2="815.80" stroke="#9a9a9a" stroke-width="1.0" />
<line x1="202.10" y1="833.20" x2="457.90" y2="833.20" stroke="#9a9a9a" stroke-width="0.8" />
<line x1="202.60" y1="815.30" x2="202.60" y2="833.60" stroke="#999" stroke-width="1.0" />
<line x1="457.40" y1="815.30" x2="457.40" y2="833.60" stroke="#999" stroke-width="1.0" />
<rect x="202.10" y="842.90" width="255.80" height="17.80" fill="#a6a6a6" />
<g filter="url(#b1)">
<rect x="205.90" y="821.05" width="15.80" height="8.90" rx="5.34" ry="4.45" fill="#0a0a0a"/>
<rect x="226.90" y="822.45" width="16.20" height="8.90" rx="5.34" ry="4.45" fill="#0a0a0a"/>
<rect x="247.00" y="822.95" width="16.40" height="9.40" rx="5.64" ry="4.70" fill="#0a0a0a"/>
<rect x="267.85" y="822.65" width="17.30" height="8.70" rx="5.22" ry="4.35" fill="#0a0a0a"/>
<rect x="289.20" y="821.65" width="17.40" height="8.70" rx="5.22" ry="4.35" fill="#0a0a0a"/>
<rect x="309.65" y="821.15" width="16.70" height="9.20" rx="5.52" ry="4.60" fill="#0a0a0a"/>
<rect x="332.95" y="823.05" width="14.10" height="7.30" rx="4.38" ry="3.65" fill="#0a0a0a"/>
<rect x="353.85" y="822.65" width="13.70" height="7.70" rx="4.62" ry="3.85" fill="#0a0a0a"/>
<rect x="375.45" y="822.25" width="14.10" height="7.20" rx="4.32" ry="3.60" fill="#0a0a0a"/>
<rect x="397.85" y="822.45" width="12.30" height="8.30" rx="4.98" ry="4.15" fill="#0a0a0a"/>
<rect x="418.60" y="822.75" width="13.00" height="6.70" rx="4.02" ry="3.35" fill="#0a0a0a"/>
<rect x="441.95" y="822.45" width="11.50" height="6.80" rx="4.08" ry="3.40" fill="#0a0a0a"/>
</g>
<g filter="url(#b2)">
<rect x="203.00" y="846.30" width="254.00" height="12.00" fill="#8a8a8a" />
<rect x="204.90" y="845.9" width="20.6" height="12.6" rx="7" ry="6.0" fill="#121212"/>
<rect x="225.50" y="845.9" width="20.6" height="12.6" rx="7" ry="6.0" fill="#121212"/>
<rect x="247.50" y="845.9" width="20.6" height="12.6" rx="7" ry="6.0" fill="#121212"/>
<rect x="268.50" y="845.9" width="20.6" height="12.6" rx="7" ry="6.0" fill="#121212"/>
<rect x="289.90" y="845.9" width="20.6" height="12.6" rx="7" ry="6.0" fill="#121212"/>
<rect x="310.00" y="845.9" width="20.6" height="12.6" rx="7" ry="6.0" fill="#121212"/>
<rect x="332.10" y="845.9" width="20.6" height="12.6" rx="7" ry="6.0" fill="#121212"/>
<rect x="351.50" y="845.9" width="20.6" height="12.6" rx="7" ry="6.0" fill="#121212"/>
<rect x="371.50" y="845.9" width="20.6" height="12.6" rx="7" ry="6.0" fill="#121212"/>
<rect x="393.00" y="845.9" width="20.6" height="12.6" rx="7" ry="6.0" fill="#121212"/>
<rect x="412.80" y="845.9" width="20.6" height="12.6" rx="7" ry="6.0" fill="#121212"/>
<rect x="433.20" y="845.9" width="20.6" height="12.6" rx="7" ry="6.0" fill="#121212"/>
</g>
<line x1="202.10" y1="843.40" x2="457.90" y2="843.40" stroke="#3a3a3a" stroke-width="1.0" />
<line x1="202.10" y1="860.30" x2="457.90" y2="860.30" stroke="#3a3a3a" stroke-width="1.0" />
<line x1="202.60" y1="842.90" x2="202.60" y2="860.70" stroke="#555" stroke-width="1.0" />
<line x1="457.40" y1="842.90" x2="457.40" y2="860.70" stroke="#555" stroke-width="1.0" />
<text x="0" y="0" font-size="14.85" font-weight="normal" text-anchor="end" fill="#000" transform="translate(193.80 829.90) scale(1 1.060)">Elovl6</text>
<text x="0" y="0" font-size="15.3" font-weight="normal" text-anchor="start" fill="#000" transform="translate(130.40 856.80) scale(1 1.070)">&#946;-Tubulin</text>
<text x="0" y="0" font-size="15.45" font-weight="normal" text-anchor="start" fill="#000" transform="translate(465.60 829.90) scale(1 1.040)">29kDa</text>
<text x="0" y="0" font-size="15.3" font-weight="normal" text-anchor="start" fill="#000" transform="translate(466.80 856.20) scale(1 1.070)">50kDa</text>
<text x="0" y="0" font-size="18.3" font-weight="bold" text-anchor="start" fill="#000" transform="translate(522.00 672.30)">(f)</text>
<line x1="589.70" y1="696.30" x2="589.70" y2="946.30" stroke="#000" stroke-width="1.8" />
<line x1="582.10" y1="946.30" x2="589.70" y2="946.30" stroke="#000" stroke-width="1.8" />
<text x="0" y="0" font-size="12.6" font-weight="bold" text-anchor="end" fill="#000" transform="translate(580.70 950.90) scale(1 1.050)">0.0</text>
<line x1="582.10" y1="884.00" x2="589.70" y2="884.00" stroke="#000" stroke-width="1.8" />
<text x="0" y="0" font-size="12.6" font-weight="bold" text-anchor="end" fill="#000" transform="translate(580.70 888.60) scale(1 1.050)">0.2</text>
<line x1="582.10" y1="821.70" x2="589.70" y2="821.70" stroke="#000" stroke-width="1.8" />
<text x="0" y="0" font-size="12.6" font-weight="bold" text-anchor="end" fill="#000" transform="translate(580.70 826.30) scale(1 1.050)">0.4</text>
<line x1="582.10" y1="759.40" x2="589.70" y2="759.40" stroke="#000" stroke-width="1.8" />
<text x="0" y="0" font-size="12.6" font-weight="bold" text-anchor="end" fill="#000" transform="translate(580.70 764.00) scale(1 1.050)">0.6</text>
<line x1="582.10" y1="697.10" x2="589.70" y2="697.10" stroke="#000" stroke-width="1.8" />
<text x="0" y="0" font-size="12.6" font-weight="bold" text-anchor="end" fill="#000" transform="translate(580.70 701.70) scale(1 1.050)">0.8</text>
<line x1="582.30" y1="946.30" x2="665.50" y2="946.30" stroke="#000" stroke-width="2.0" />
<line x1="610.80" y1="763.60" x2="610.80" y2="765.20" stroke="#333" stroke-width="1.0" />
<line x1="605.60" y1="763.70" x2="615.80" y2="763.70" stroke="#666" stroke-width="1.2" />
<rect x="600.30" y="765.20" width="21.40" height="181.10" fill="#000" />
<line x1="642.90" y1="860.00" x2="642.90" y2="861.20" stroke="#ff2a2a" stroke-width="1.0" />
<line x1="638.40" y1="860.00" x2="647.40" y2="860.00" stroke="#ff2a2a" stroke-width="1.3" />
<rect x="632.00" y="861.20" width="21.80" height="85.10" fill="#f74343" />
<line x1="589.70" y1="696.30" x2="589.70" y2="946.30" stroke="#000" stroke-width="1.8" />
<line x1="582.30" y1="946.30" x2="665.50" y2="946.30" stroke="#000" stroke-width="2.1" />
<line x1="610.80" y1="946.30" x2="610.80" y2="953.00" stroke="#000" stroke-width="1.8" />
<line x1="642.80" y1="946.30" x2="642.80" y2="953.00" stroke="#000" stroke-width="1.8" />
<text x="0" y="0" font-size="12.2" font-weight="bold" text-anchor="middle" fill="#000" transform="translate(610.60 966.50)">WS</text>
<text x="0" y="0" font-size="12.2" font-weight="bold" text-anchor="middle" fill="#000" transform="translate(643.00 966.50)">CAC</text>
<line x1="610.30" y1="744.30" x2="644.50" y2="744.30" stroke="#000" stroke-width="2.4" />
<line x1="627.20" y1="730.30" x2="627.20" y2="737.50" stroke="#000" stroke-width="1.7" />
<line x1="624.08" y1="732.10" x2="630.32" y2="735.70" stroke="#000" stroke-width="1.7" />
<line x1="624.08" y1="735.70" x2="630.32" y2="732.10" stroke="#000" stroke-width="1.7" />
<text x="0" y="0" font-size="12.3" font-weight="bold" text-anchor="start" fill="#000" transform="translate(555.10 946.20) scale(1 1.070) rotate(-90) scale(1 1.020)">Relative Quantification of Elovl6 Protein</text>
</svg></body></html>
